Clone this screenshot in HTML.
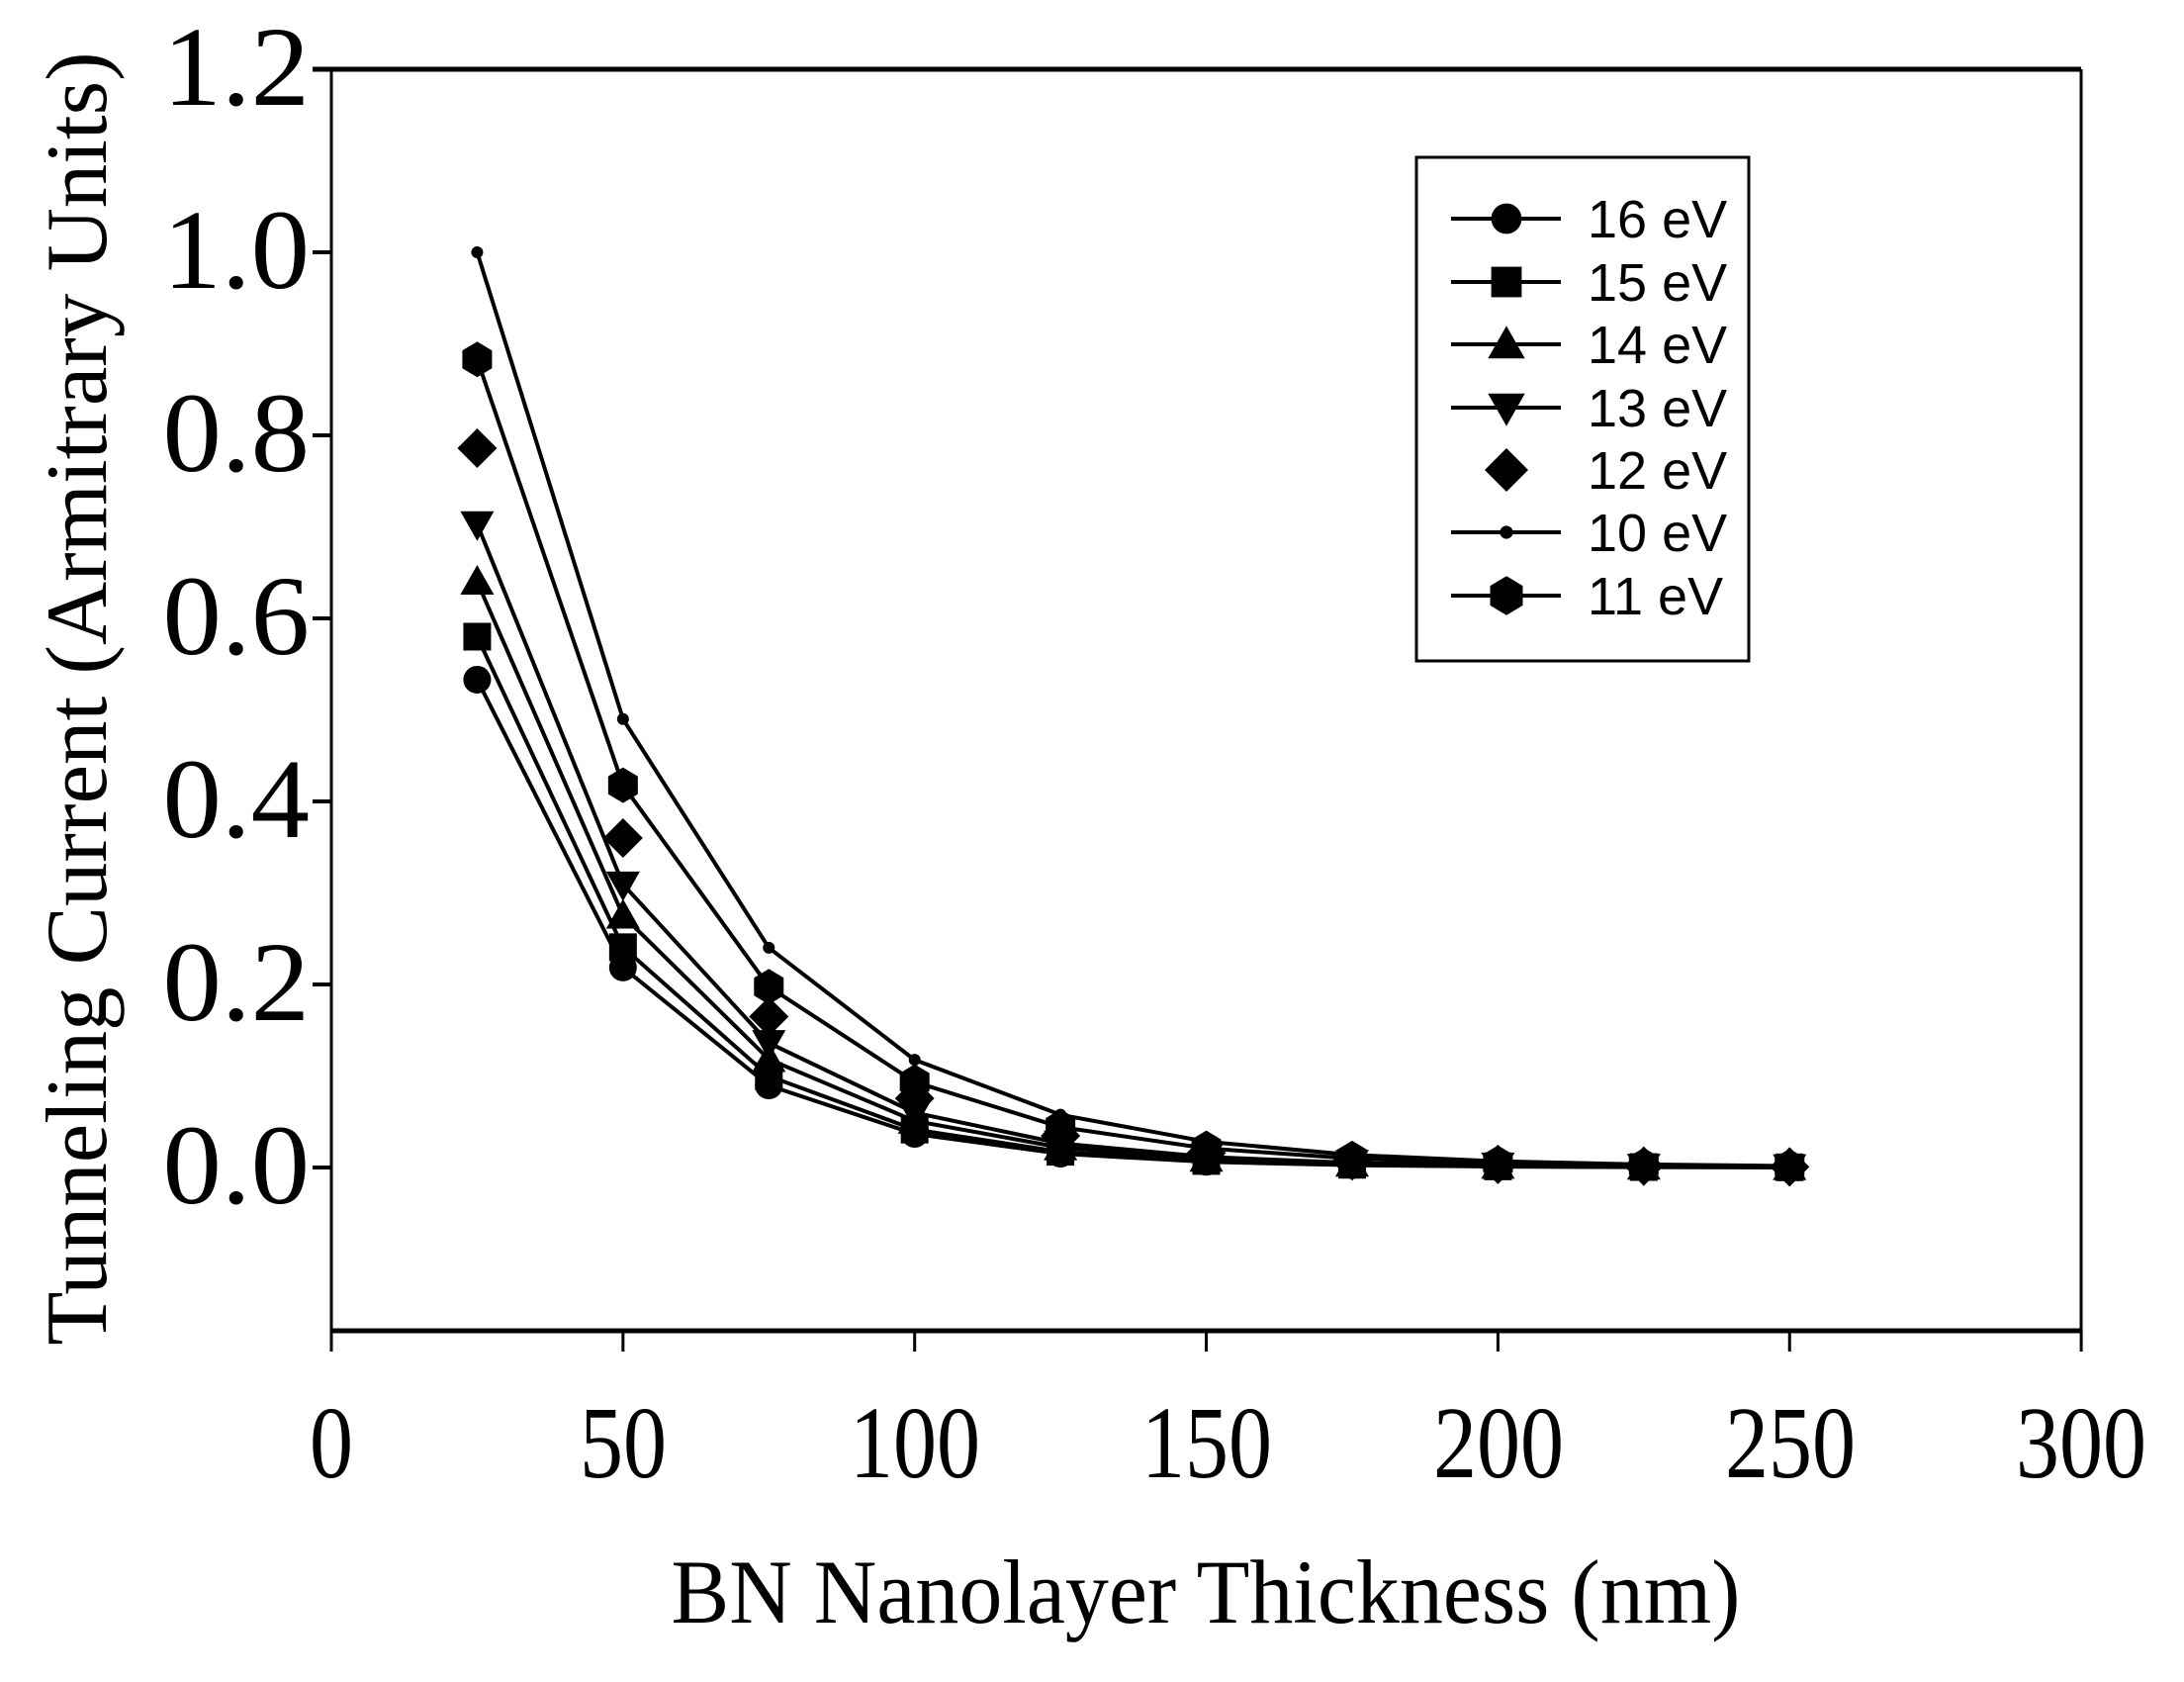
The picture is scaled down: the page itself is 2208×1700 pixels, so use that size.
<!DOCTYPE html>
<html><head><meta charset="utf-8"><style>
html,body{margin:0;padding:0;background:#fff;}
svg{display:block;}
</style></head><body>
<svg id="s" xmlns="http://www.w3.org/2000/svg" width="2208" height="1700" viewBox="0 0 2208 1700">
<rect width="2208" height="1700" fill="#fff"/>
<g id="plot"></g>
<g font-family="Liberation Serif, serif" font-size="88" fill="#000">
<g text-anchor="end">
<text transform="translate(313,106) scale(1.35,1.3)">1.2</text>
<text transform="translate(313,291) scale(1.35,1.3)">1.0</text>
<text transform="translate(313,476) scale(1.35,1.3)">0.8</text>
<text transform="translate(313,661) scale(1.35,1.3)">0.6</text>
<text transform="translate(313,846) scale(1.35,1.3)">0.4</text>
<text transform="translate(313,1031) scale(1.35,1.3)">0.2</text>
<text transform="translate(313,1216) scale(1.35,1.3)">0.0</text>
</g>
<g text-anchor="middle">
<text transform="translate(335,1493) scale(1,1.18)">0</text>
<text transform="translate(630,1493) scale(1,1.18)">50</text>
<text transform="translate(925,1493) scale(1,1.18)">100</text>
<text transform="translate(1220,1493) scale(1,1.18)">150</text>
<text transform="translate(1515,1493) scale(1,1.18)">200</text>
<text transform="translate(1810,1493) scale(1,1.18)">250</text>
<text transform="translate(2104,1493) scale(1,1.18)">300</text>
<text transform="translate(1219,1640) scale(1,1.05)">BN Nanolayer Thickness (nm)</text>
<text transform="translate(107,706) rotate(-90) scale(1.01,1.0)">Tunneling Current (Armitrary Units)</text>
</g>
</g>
<g font-family="Liberation Sans, sans-serif" font-size="54" fill="#000">
<text x="1605" y="240">16 eV</text>
<text x="1605" y="304">15 eV</text>
<text x="1605" y="367">14 eV</text>
<text x="1605" y="431">13 eV</text>
<text x="1605" y="494">12 eV</text>
<text x="1605" y="557">10 eV</text>
<text x="1605" y="621">11 eV</text>
</g>
</svg>
<script>
var ns="http://www.w3.org/2000/svg",g=document.getElementById('plot');
function el(t,a){var e=document.createElementNS(ns,t);for(var k in a)e.setAttribute(k,a[k]);g.appendChild(e);return e;}
function X(v){return 335+v*5.897;}function Y(v){return 1180-v*925;}
el('line',{x1:316,y1:70,x2:2104,y2:70,stroke:'#000','stroke-width':5});
el('line',{x1:335,y1:70,x2:335,y2:1345,stroke:'#000','stroke-width':3});
el('line',{x1:2104,y1:70,x2:2104,y2:1345,stroke:'#000','stroke-width':3});
el('line',{x1:335,y1:1345,x2:2104,y2:1345,stroke:'#000','stroke-width':5});
for(var i=0;i<=6;i++){var y=Y(i*0.2);el('line',{x1:316,y1:y,x2:335,y2:y,stroke:'#000','stroke-width':4});}
for(var i=0;i<=6;i++){var x=X(i*50);el('line',{x1:x,y1:1345,x2:x,y2:1366,stroke:'#000','stroke-width':3});}
function marker(t,x,y,s){s=s||1;
 if(t=='c')el('circle',{cx:x,cy:y,r:14*s});
 else if(t=='s')el('rect',{x:x-14*s,y:y-14*s,width:28*s,height:28*s});
 else if(t=='u')el('polygon',{points:[x,y-17*s,x+17*s,y+13*s,x-17*s,y+13*s].join(' ')});
 else if(t=='d')el('polygon',{points:[x,y+17*s,x+17*s,y-13*s,x-17*s,y-13*s].join(' ')});
 else if(t=='r')el('polygon',{points:[x,y-20*s,x+20*s,y,x,y+20*s,x-20*s,y].join(' ')});
 else if(t=='h')el('polygon',{points:[x-15*s,y-9*s,x,y-18*s,x+15*s,y-9*s,x+15*s,y+9*s,x,y+18*s,x-15*s,y+9*s].join(' ')});
 else if(t=='p'){el('circle',{cx:x,cy:y,r:6*s});}
}
var S=[['c',0.533,0.41,1],['s',0.58,0.415,1],['u',0.64,0.43,1],['d',0.703,0.44,1],['r',0.786,0.458,0],['p',1.0,0.49,1],['h',0.883,0.473,1]];
S.forEach(function(s){var pts=[];for(var k=0;k<10;k++){pts.push([X(25+25*k),Y(s[1]*Math.pow(s[2],k))]);}
 if(s[3])el('polyline',{points:pts.map(function(p){return p.join(',')}).join(' '),fill:'none',stroke:'#000','stroke-width':4});
 pts.forEach(function(p){marker(s[0],p[0],p[1]);});});
el('rect',{x:1432,y:159,width:336,height:509,fill:'none',stroke:'#000','stroke-width':3});
var ly=[221,285,348,412,475,538,602];
S.forEach(function(s,i){if(s[3])el('line',{x1:1467,y1:ly[i],x2:1578,y2:ly[i],stroke:'#000','stroke-width':4});marker(s[0],1523,ly[i],1.1);});
</script>
</body></html>
